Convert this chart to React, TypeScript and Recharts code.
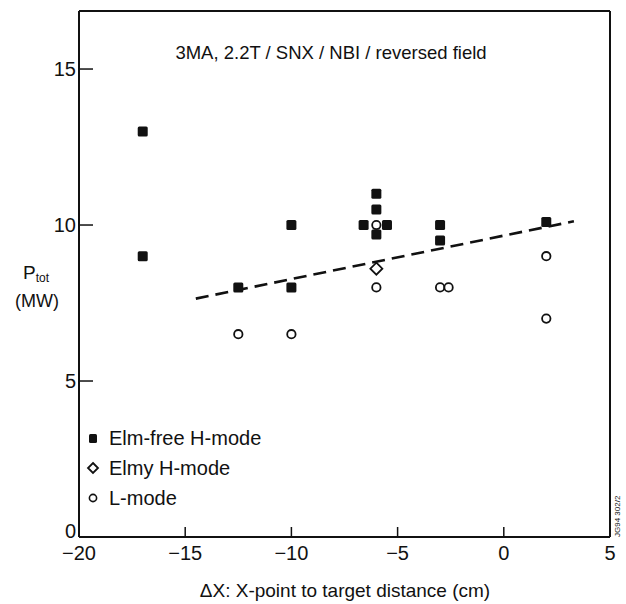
import { ScatterChart, Scatter, XAxis, YAxis, ReferenceLine, Legend } from "recharts";

const xTicks = [-20, -15, -10, -5, 0, 5];
const yTicks = [0, 5, 10, 15];

const elmFree = [
  { x: -17, y: 13 },
  { x: -17, y: 9 },
  { x: -12.5, y: 8 },
  { x: -10, y: 10 },
  { x: -10, y: 8 },
  { x: -6, y: 11 },
  { x: -6, y: 10.5 },
  { x: -6.6, y: 10 },
  { x: -5.5, y: 10 },
  { x: -6, y: 9.7 },
  { x: -3, y: 10 },
  { x: -3, y: 9.5 },
  { x: 2, y: 10.1 },
];
const elmy = [{ x: -6, y: 8.6 }];
const lMode = [
  { x: -12.5, y: 6.5 },
  { x: -10, y: 6.5 },
  { x: -6, y: 10 },
  { x: -6, y: 8 },
  { x: -3, y: 8 },
  { x: -2.6, y: 8 },
  { x: 2, y: 9 },
  { x: 2, y: 7 },
];
const fitLine = [
  { x: -14.5, y: 7.64 },
  { x: 3.3, y: 10.12 },
];

const INK = "#111";
const FONT = "'Liberation Sans', Arial, sans-serif";

const Square = (p: any) => <rect x={p.cx - 5} y={p.cy - 5} width={10} height={10} rx={1.5} fill={INK} />;
const Diamond = (p: any) => (
  <path d={`M${p.cx},${p.cy - 6} L${p.cx + 6},${p.cy} L${p.cx},${p.cy + 6} L${p.cx - 6},${p.cy} Z`} fill="#fff" stroke={INK} strokeWidth={1.8} />
);
const Ring = (p: any) => <circle cx={p.cx} cy={p.cy} r={4.2} fill="#fff" stroke={INK} strokeWidth={1.8} />;
const NoDot = () => <g />;

const XTick = ({ x, y, payload }: any) => (
  <g>
    <line x1={x} x2={x} y1={y} y2={y - 10} stroke={INK} strokeWidth={1.5} />
    <text x={x} y={y + 16} textAnchor="middle" dominantBaseline="central" fontSize={20} fill={INK} fontFamily={FONT}>
      {payload.value < 0 ? `\u2212${Math.abs(payload.value)}` : payload.value}
    </text>
  </g>
);

const YTick = ({ x, y, payload }: any) => (
  <g>
    {payload.value > 0 && <line x1={x} x2={x + 14} y1={y} y2={y} stroke={INK} strokeWidth={1.5} />}
    <text x={x - 3} y={payload.value === 0 ? y - 6 : y} textAnchor="end" dominantBaseline="central" fontSize={20} fill={INK} fontFamily={FONT}>
      {payload.value}
    </text>
  </g>
);

const legendRows = [
  { name: "Elm-free H-mode", icon: (cy: number) => <rect x={3} y={cy - 4} width={8} height={9} rx={1.5} fill={INK} /> },
  { name: "Elmy H-mode", icon: (cy: number) => <path d={`M7,${cy - 5} L12,${cy} L7,${cy + 5} L2,${cy} Z`} fill="#fff" stroke={INK} strokeWidth={1.8} /> },
  { name: "L-mode", icon: (cy: number) => <circle cx={7} cy={cy} r={3.6} fill="#fff" stroke={INK} strokeWidth={1.6} /> },
];

const LegendBox = () => (
  <svg width={200} height={92} style={{ display: "block" }}>
    {legendRows.map((r, i) => (
      <g key={r.name}>
        {r.icon(14 + i * 30)}
        <text x={23} y={14 + i * 30} dominantBaseline="central" fontSize={20} fill={INK} fontFamily={FONT}>
          {r.name}
        </text>
      </g>
    ))}
  </svg>
);

export default function App() {
  return (
    <div style={{ position: "absolute", left: 0, top: 0, width: 626, height: 604, background: "#fff" }}>
      <ScatterChart width={626} height={604} margin={{ top: 11, right: 16, left: 0, bottom: 0 }}>
        <XAxis
          type="number"
          dataKey="x"
          domain={[-20, 5]}
          ticks={xTicks}
          allowDataOverflow
          axisLine={{ stroke: INK, strokeWidth: 2 }}
          tickLine={false}
          tickSize={0}
          tickMargin={0}
          tick={<XTick />}
          height={67}
        />
        <YAxis
          type="number"
          dataKey="y"
          domain={[0, 16.86]}
          ticks={yTicks}
          allowDataOverflow
          axisLine={{ stroke: INK, strokeWidth: 2 }}
          tickLine={false}
          tickSize={0}
          tickMargin={0}
          tick={<YTick />}
          width={79}
        />
        <ReferenceLine x={5} stroke={INK} strokeWidth={2} ifOverflow="extendDomain" />
        <ReferenceLine y={16.86} stroke={INK} strokeWidth={2} />
        <Scatter name="fit" data={fitLine} line={{ stroke: INK, strokeWidth: 2.6, strokeDasharray: "13 7" }} shape={<NoDot />} legendType="none" isAnimationActive={false} />
        <Scatter name="Elm-free H-mode" data={elmFree} shape={<Square />} isAnimationActive={false} />
        <Scatter name="Elmy H-mode" data={elmy} shape={<Diamond />} isAnimationActive={false} />
        <Scatter name="L-mode" data={lMode} shape={<Ring />} isAnimationActive={false} />
        <Legend layout="horizontal" verticalAlign="middle" align="center" content={<LegendBox />} wrapperStyle={{ left: 86, top: 424, width: 200 }} />
        <text x={331} y={52} textAnchor="middle" dominantBaseline="central" fontSize={18.5} fill={INK} fontFamily={FONT}>
          3MA, 2.2T / SNX / NBI / reversed field
        </text>
        <text x={23} y={272} dominantBaseline="central" fontSize={19} fill={INK} fontFamily={FONT}>
          P<tspan fontSize={12} dy={6}>tot</tspan>
        </text>
        <text x={37} y={301} textAnchor="middle" dominantBaseline="central" fontSize={18} fill={INK} fontFamily={FONT}>
          (MW)
        </text>
        <text x={345} y={590} textAnchor="middle" dominantBaseline="central" fontSize={19} fill={INK} fontFamily={FONT}>
          ΔX: X-point to target distance (cm)
        </text>
        <text x={0} y={0} transform="translate(620,537) rotate(-90)" fontSize={8} fill={INK} fontFamily={FONT}>
          JG94 302/2
        </text>
      </ScatterChart>
    </div>
  );
}
